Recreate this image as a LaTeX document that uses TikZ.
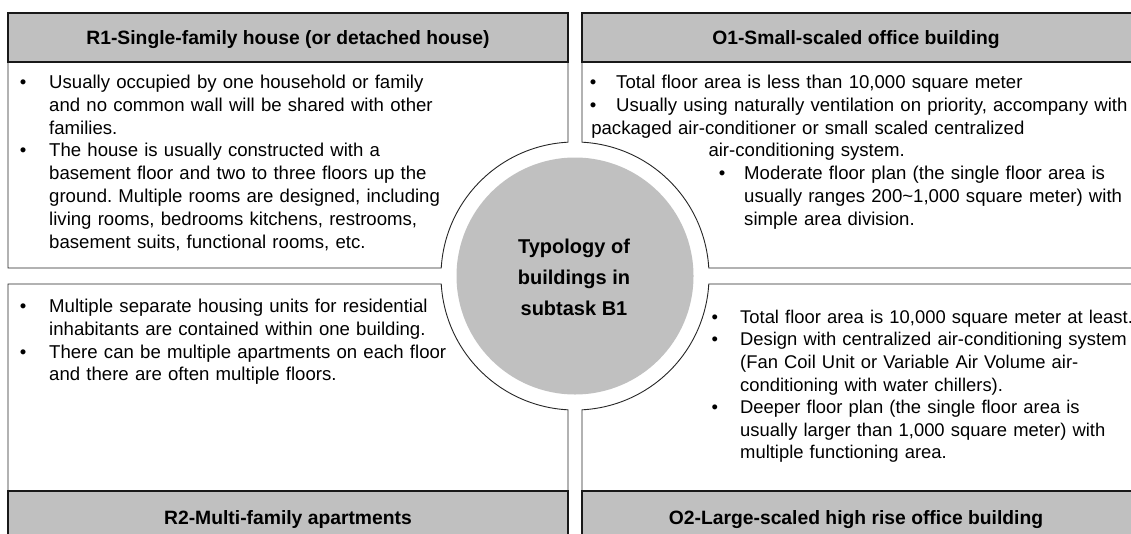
\documentclass[tikz,border=0pt]{standalone}
\usepackage{fontspec}
\setmainfont{Liberation Sans}
\frenchspacing
\definecolor{hdrgray}{HTML}{C0C0C0}
\definecolor{circgray}{HTML}{C0C0C0}
\newcommand\bi[2]{\noindent\rule{0pt}{16pt}\makebox[#1][l]{\textbullet}#2\par}
\newcommand\ci[2]{\noindent\rule{0pt}{16pt}\hspace*{#1}#2\par}
\tikzset{
  panel/.style={fill=white, draw=black!85, line width=0.9pt},
  header/.style={fill=hdrgray, draw=black!90, line width=1.6pt},
  hdrtext/.style={font=\fontsize{19.3}{23}\selectfont\bfseries, anchor=base, inner sep=0pt},
  bodytext/.style={font=\fontsize{18.6}{22.9}\selectfont, anchor=north west, inner sep=0pt, text width=560pt, align=left},
  circtext/.style={font=\fontsize{20}{31}\selectfont\bfseries, anchor=north, inner sep=0pt, align=center},
}
\begin{document}
\begin{tikzpicture}[x=1pt,y=-1pt]
\useasboundingbox (0,0) rectangle (1131,533);
\clip (0,0) rectangle (1131,533);
% panels
\draw[panel] (8,13) -- (568,13) -- (568,142.18) arc[start angle=-92.99, end angle=-176.58, radius=134] -- (8,268) -- cycle;
\draw[panel] (582,13) -- (582,142.18) arc[start angle=-87.01, end angle=-3.42, radius=134] -- (1140,268) -- (1140,13) -- cycle;
\draw[panel] (8,284) -- (441.24,284) arc[start angle=176.58, end angle=92.99, radius=134] -- (568,545) -- (8,545) -- cycle;
\draw[panel] (1140,284) -- (708.76,284) arc[start angle=3.42, end angle=87.01, radius=134] -- (582,545) -- (1140,545) -- cycle;
% headers
\draw[header] (8,13) rectangle (568,62);
\draw[header] (582,13) rectangle (1140,62);
\draw[header] (8,491) rectangle (568,545);
\draw[header] (582,491) rectangle (1140,545);
\node[hdrtext] (hTL) at (288,44) {R1-Single-family house (or detached house)};
\node[hdrtext] (hTR) at (856,44) {O1-Small-scaled office building};
\node[hdrtext] (hBL) at (288,524) {R2-Multi-family apartments};
\node[hdrtext] (hBR) at (856,524) {O2-Large-scaled high rise office building};
% centre circle
\node[circle, fill=circgray, minimum size=237pt, inner sep=0pt] (c) at (575,276) {};
\node[circtext] (ct) at (574,237) {\rule{0pt}{16pt}Typology of\\buildings in\\subtask B1};
% bodies
\node[bodytext] (bTL) at (19.6,72) {%
\bi{29.4pt}{Usually occupied by one household or family}
\ci{29.4pt}{and no common wall will be shared with other}
\ci{29.4pt}{families.}
\bi{29.4pt}{The house is usually constructed with a}
\ci{29.4pt}{basement floor and two to three floors up the}
\ci{29.4pt}{ground. Multiple rooms are designed, including}
\ci{29.4pt}{living rooms, bedrooms kitchens, restrooms,}
\ci{29.4pt}{basement suits, functional rooms, etc.}};
\node[bodytext] (bBL) at (19.6,296) {%
\bi{29.4pt}{Multiple separate housing units for residential}
\ci{29.4pt}{inhabitants are contained within one building.}
\bi{29.4pt}{There can be multiple apartments on each floor}
\ci{29.4pt}{and there are often multiple floors.}};
\node[bodytext] (bTR) at (589.6,72) {%
\bi{26.4pt}{Total floor area is less than 10,000 square meter}
\bi{26.4pt}{Usually using naturally ventilation on priority, accompany with}
\ci{1.5pt}{packaged air-conditioner or small scaled centralized}
\ci{118.7pt}{air-conditioning system.}
\ci{129pt}{\makebox[25.4pt][l]{\textbullet}Moderate floor plan (the single floor area is}
\ci{154.4pt}{usually ranges 200\textasciitilde1,000 square meter) with}
\ci{154.4pt}{simple area division.}};
\node[bodytext, font=\fontsize{18.4}{22.6}\selectfont] (bBR) at (711.5,307) {%
\bi{28.5pt}{Total floor area is 10,000 square meter at least.}
\bi{28.5pt}{Design with centralized air-conditioning system}
\ci{28.5pt}{(Fan Coil Unit or Variable Air Volume air-}
\ci{28.5pt}{conditioning with water chillers).}
\bi{28.5pt}{Deeper floor plan (the single floor area is}
\ci{28.5pt}{usually larger than 1,000 square meter) with}
\ci{28.5pt}{multiple functioning area.}};
\end{tikzpicture}
\end{document}
